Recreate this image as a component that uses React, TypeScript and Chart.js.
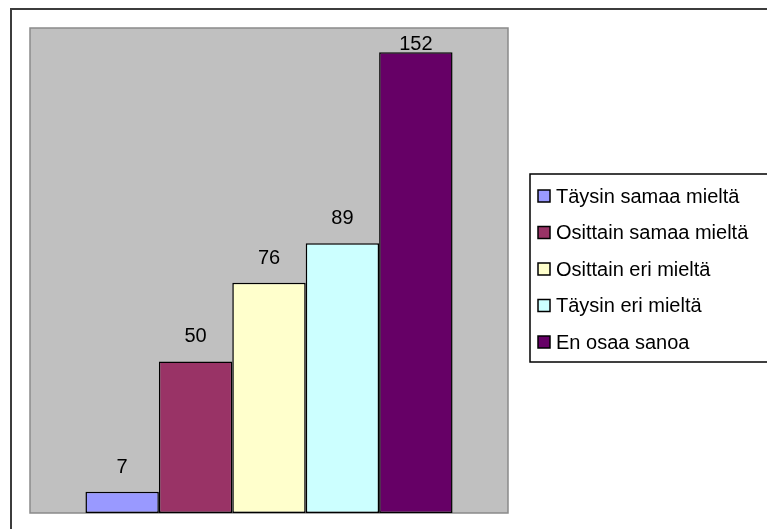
import React, { useEffect, useRef } from "react";
import { Chart, registerables } from "chart.js";

Chart.register(...registerables);

const categories = [""];
const seriesNames = [
  "Täysin samaa mieltä",
  "Osittain samaa mieltä",
  "Osittain eri mieltä",
  "Täysin eri mieltä",
  "En osaa sanoa",
];
const seriesValues = [7, 50, 76, 89, 152];
const seriesColors = ["#9999FF", "#993366", "#FFFFCC", "#CCFFFF", "#660066"];
const yMin = 0;
const yMax = 160;

const FONT = "'Liberation Sans', Arial, sans-serif";

const backgroundPlugin = {
  id: "excelBackground",
  beforeDraw(chart: any) {
    const { ctx, chartArea } = chart;
    ctx.save();
    ctx.fillStyle = "#ffffff";
    ctx.fillRect(0, 0, chart.width, chart.height);
    // outer chart border (top & left visible)
    ctx.strokeStyle = "#3c3c3c";
    ctx.lineWidth = 2;
    ctx.beginPath();
    ctx.moveTo(11, chart.height + 2);
    ctx.lineTo(11, 9);
    ctx.lineTo(chart.width + 2, 9);
    ctx.stroke();
    // plot area
    ctx.fillStyle = "#C0C0C0";
    ctx.fillRect(chartArea.left, chartArea.top, chartArea.right - chartArea.left, chartArea.bottom - chartArea.top);
    ctx.strokeStyle = "#8a8a8a";
    ctx.lineWidth = 1.5;
    ctx.strokeRect(chartArea.left, chartArea.top, chartArea.right - chartArea.left, chartArea.bottom - chartArea.top);
    ctx.restore();
  },
};

const labelsPlugin = {
  id: "valueLabels",
  afterDatasetsDraw(chart: any) {
    const { ctx, chartArea } = chart;
    ctx.save();
    ctx.font = `20px ${FONT}`;
    ctx.fillStyle = "#000";
    ctx.textAlign = "center";
    ctx.textBaseline = "alphabetic";
    chart.data.datasets.forEach((ds: any, i: number) => {
      const meta = chart.getDatasetMeta(i);
      meta.data.forEach((bar: any, j: number) => {
        const v = ds.data[j];
        let y = bar.y - 19;
        y = Math.max(y, chartArea.top + 22);
        ctx.fillText(String(v), bar.x, y);
      });
    });
    ctx.restore();
  },
};

const legendPlugin = {
  id: "excelLegend",
  afterDraw(chart: any) {
    const { ctx } = chart;
    const left = 530;
    const top = 174;
    const rowH = 36.5;
    const n = chart.data.datasets.length;
    const bottom = top + 22 + rowH * (n - 1) + 20;
    ctx.save();
    ctx.fillStyle = "#fff";
    ctx.fillRect(left, top, chart.width - left + 5, bottom - top);
    ctx.strokeStyle = "#000";
    ctx.lineWidth = 1.5;
    ctx.strokeRect(left, top, chart.width - left + 5, bottom - top);
    ctx.font = `20px ${FONT}`;
    ctx.textBaseline = "middle";
    ctx.textAlign = "left";
    chart.data.datasets.forEach((ds: any, i: number) => {
      const cy = top + 22 + i * rowH;
      ctx.fillStyle = ds.backgroundColor;
      ctx.fillRect(538, cy - 6, 12, 12);
      ctx.strokeStyle = "#000";
      ctx.lineWidth = 1.5;
      ctx.strokeRect(538, cy - 6, 12, 12);
      ctx.fillStyle = "#000";
      ctx.fillText(ds.label, 556, cy + 1);
    });
    ctx.restore();
  },
};

export default function App() {
  const ref = useRef<HTMLCanvasElement | null>(null);
  useEffect(() => {
    if (!ref.current) return;
    const chart = new Chart(ref.current, {
      type: "bar",
      data: {
        labels: categories,
        datasets: seriesNames.map((name, i) => ({
          label: name,
          data: [seriesValues[i]],
          backgroundColor: seriesColors[i],
          borderColor: "#000000",
          borderWidth: 1.5,
          borderSkipped: false,
          categoryPercentage: 0.768,
          barPercentage: 1.0,
        })),
      },
      options: {
        animation: false,
        responsive: false,
        devicePixelRatio: 1,
        layout: { padding: { left: 30, top: 28, right: 259, bottom: 16 } },
        plugins: { legend: { display: false }, tooltip: { enabled: false } },
        scales: {
          x: { display: false },
          y: { display: false, min: yMin, max: yMax },
        },
      },
      plugins: [backgroundPlugin, labelsPlugin, legendPlugin],
    });
    return () => chart.destroy();
  }, []);
  return (
    <div style={{ position: "absolute", left: 0, top: 0, width: 767, height: 529 }}>
      <canvas ref={ref} width={767} height={529} style={{ width: 767, height: 529, display: "block" }} />
    </div>
  );
}
